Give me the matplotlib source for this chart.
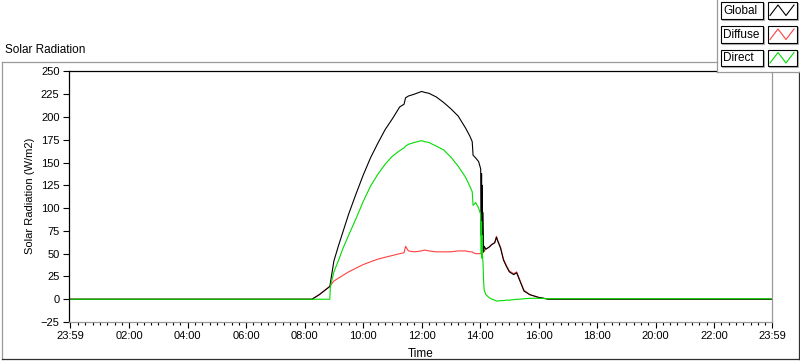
import matplotlib.pyplot as plt
import numpy as np
from matplotlib.lines import Line2D
from matplotlib.patches import Rectangle

plt.rcParams['font.family'] = ['Liberation Sans', 'DejaVu Sans']
plt.rcParams['font.size'] = 8

# time of day in hours (axis runs 23:59 -> 23:59)
hours = [-1/60, 8.25, 8.5, 8.7, 8.86, 8.88, 9.0, 9.15, 9.3, 9.5, 9.75, 10.0, 10.25,
         10.5, 10.75, 11.0, 11.25, 11.4, 11.45, 11.55, 11.75, 12.0, 12.1, 12.25,
         12.5, 12.75, 13.0, 13.25, 13.5, 13.65, 13.73, 13.76, 13.85, 13.95, 14.02,
         14.04, 14.05, 14.06, 14.07, 14.08, 14.1, 14.12, 14.14, 14.2, 14.3, 14.4,
         14.5, 14.56, 14.6, 14.7, 14.8, 14.9, 15.0, 15.15, 15.25, 15.35, 15.5,
         15.7, 16.0, 16.35, 23 + 59/60]

global_rad = [0, 0, 5, 10, 14, 18, 42, 58, 73, 93, 115, 136, 155,
              171, 186, 198, 211, 214, 221, 223, 225, 228, 227, 226,
              222, 216, 209, 201, 188, 179, 173, 158, 155, 151, 143,
              70, 138, 60, 125, 55, 95, 52, 58, 55, 57, 60,
              62, 68, 64, 56, 43, 36, 30, 27, 29, 21, 9,
              5, 2, 0, 0]

diffuse_rad = [0, 0, 5, 10, 14, 15, 20, 23, 26, 30, 34, 38, 41,
               44, 46, 48, 50, 51, 58, 53, 52, 53, 54, 53,
               52, 52, 52, 53, 53, 52, 52, 51, 50, 50, 50,
               50, 49, 50, 51, 51, 51, 52, 53, 55, 57, 60,
               62, 69, 65, 57, 44, 37, 31, 28, 30, 22, 10,
               5, 2, 0, 0]

direct_rad = [0, 0, 0, 0, 0, 14, 30, 42, 55, 70, 88, 107, 124,
              137, 148, 157, 163, 166, 168, 170, 172, 174, 173, 172,
              168, 164, 156, 146, 134, 124, 118, 103, 106, 100, 93,
              50, 85, 45, 70, 48, 40, 20, 10, 5, 2, 0,
              -1, -2, -2, -1.5, -1.5, -1, -1, -0.5, 0, 0, 0.5,
              1, 1, 0.5, 0.5]

tick_hours = [-1/60, 2, 4, 6, 8, 10, 12, 14, 16, 18, 20, 22, 23 + 59/60]
tick_labels = ['23:59', '02:00', '04:00', '06:00', '08:00', '10:00', '12:00',
               '14:00', '16:00', '18:00', '20:00', '22:00', '23:59']

series_names = ['Global', 'Diffuse', 'Direct']
series_colors = ['black', '#ff4040', '#00dd00']

W, H = 800, 361
fig = plt.figure(figsize=(8, 3.61), dpi=100)


def fx(px):
    return px / W


def fy(py):
    return 1 - py / H


ax = fig.add_axes([fx(68.5), fy(322), fx(772) - fx(68.5), fy(70.5) - fy(322)])
ax.plot(hours, diffuse_rad, color=series_colors[1], lw=0.8)
ax.plot(hours, global_rad, color=series_colors[0], lw=0.8)
ax.plot(hours, direct_rad, color=series_colors[2], lw=0.8)

ax.set_xlim(-1/60 - 0.06, 23 + 59/60)
ax.set_ylim(-25, 251)
ax.set_yticks(np.arange(-25, 251, 25))
ax.set_xticks(tick_hours, tick_labels)
ax.set_xticks(np.arange(0.25, 24, 0.25), minor=True)
ax.tick_params(axis='both', which='major', length=4, width=0.8, pad=2.5, colors='black')
ax.tick_params(axis='x', which='minor', length=2.5, width=0.8)
for side in ['top', 'left']:
    ax.spines[side].set_color('black')
    ax.spines[side].set_linewidth(0.9)
for side in ['right', 'bottom']:
    ax.spines[side].set_color('#9a9a9a')
    ax.spines[side].set_linewidth(0.9)
ax.set_xlabel('Time', labelpad=5, fontsize=8.5)
ax.set_ylabel('Solar Radiation (W/m2)', labelpad=4)

# outer panel frame
fig.add_artist(Line2D([fx(1.5), fx(1.5)], [fy(62), fy(359)], color='#9a9a9a', lw=0.9))
fig.add_artist(Line2D([fx(1.5), fx(717)], [fy(62), fy(62)], color='#9a9a9a', lw=0.9))
fig.add_artist(Line2D([fx(799), fx(799)], [fy(72), fy(359)], color='#303030', lw=0.9))
fig.add_artist(Line2D([fx(1.5), fx(799)], [fy(359), fy(359)], color='#303030', lw=0.9))
fig.text(fx(5), fy(50), 'Solar Radiation', ha='left', va='center', fontsize=8.5)

# legend panel
fig.add_artist(Rectangle((fx(717), fy(72)), fx(800) - fx(717), fy(0) - fy(72),
                         facecolor='white', edgecolor='none'))
fig.add_artist(Line2D([fx(717), fx(717)], [fy(0), fy(72)], color='#9a9a9a', lw=0.9))
fig.add_artist(Line2D([fx(717), fx(800)], [fy(72), fy(72)], color='#9a9a9a', lw=0.9))
row_tops = [2, 26, 49.5]
for name, color, top in zip(series_names, series_colors, row_tops):
    bottom = top + 16.5
    for x0, x1 in [(721, 763), (767.5, 796.5)]:
        fig.add_artist(Rectangle((fx(x0 + 1), fy(bottom + 1)), fx(x1) - fx(x0), fy(top) - fy(bottom),
                                 facecolor='none', edgecolor='#b0b0b0', lw=0.8))
        fig.add_artist(Rectangle((fx(x0), fy(bottom)), fx(x1) - fx(x0), fy(top) - fy(bottom),
                                 facecolor='white', edgecolor='black', lw=0.8))
    fig.text(fx(723), fy(top + 8.5), name, ha='left', va='center', fontsize=8.5)
    fig.add_artist(Line2D([fx(770), fx(778), fx(786), fx(794)],
                          [fy(bottom - 3), fy(top + 3), fy(bottom - 3), fy(top + 3)],
                          color=color, lw=0.8))

fig.savefig('out.png', dpi=100)
